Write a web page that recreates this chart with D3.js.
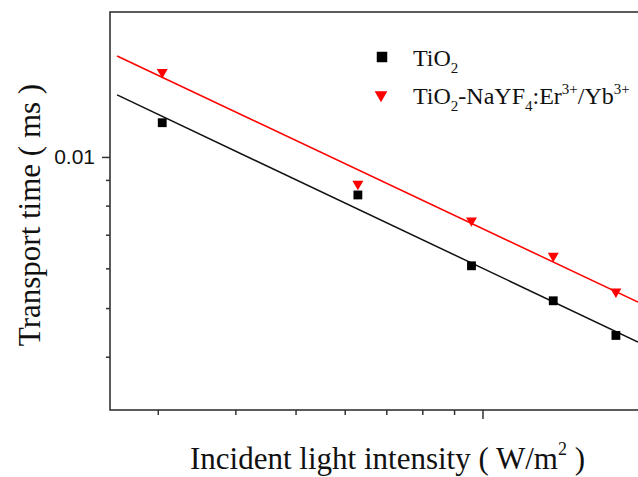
<!DOCTYPE html>
<html>
<head>
<meta charset="utf-8">
<script src="https://cdnjs.cloudflare.com/ajax/libs/d3/7.8.5/d3.min.js"></script>
<style>
	body{margin:0;background:#fff;}
	svg{display:block;}
</style>
</head>
<body>
<script>
// (log-log)
var intensity = [3.05, 6.3, 9.6, 13.0, 16.4];
var timeTiO2 = [0.0117, 0.0084, 0.00607, 0.00517, 0.00441];
var timeDoped = [0.01476, 0.00884, 0.00747, 0.00635, 0.00539];
// fitted lines, two ends each
var fitX = [2.58, 17.8];
var fitTiO2 = [0.01329, 0.00428];
var fitDoped = [0.01589, 0.00514];
var xMinorTicks = [3, 4, 5, 6, 7, 8, 9];
var xMajorTicks = [10];
var yMinorTicks = [0.004, 0.005, 0.006, 0.007, 0.008, 0.009];
var yMajorTicks = [0.01];

var width = 638;
var height = 477;
var plotLeft = 110, plotTop = 12, plotRight = 700, plotBottom = 410;
var axisColor = '#333';

var canvas = d3.select('body')
				.append('svg')
				.attr('width',width)
				.attr('height',height);

var x = d3.scaleLog()
			.domain([2.513,22.4])
			.range([plotLeft,plotRight]);
var y = d3.scaleLog()
			.domain([0.003133,0.01944])
			.range([plotBottom,plotTop]);

function styleAxis(g){
	g.select('.domain').remove();
	g.selectAll('.tick line').attr('stroke',axisColor).attr('stroke-width',1.5);
}

// x ticks
canvas.append('g')
	.attr('transform','translate(0,'+plotBottom+')')
	.call(d3.axisBottom(x).tickValues(xMinorTicks).tickSize(5).tickFormat(''))
	.call(styleAxis);
canvas.append('g')
	.attr('transform','translate(0,'+plotBottom+')')
	.call(d3.axisBottom(x).tickValues(xMajorTicks).tickSize(9).tickFormat(''))
	.call(styleAxis);

// y ticks
canvas.append('g')
	.attr('transform','translate('+plotLeft+',0)')
	.call(d3.axisLeft(y).tickValues(yMinorTicks).tickSize(4).tickFormat(''))
	.call(styleAxis);
var yMajor = canvas.append('g')
	.attr('transform','translate('+plotLeft+',0)')
	.call(d3.axisLeft(y).tickValues(yMajorTicks).tickSize(8).tickPadding(7).tickFormat(d3.format('')))
	.call(styleAxis);
yMajor.selectAll('text')
	.attr('font-family','"Liberation Sans", Arial, sans-serif')
	.attr('font-size',21)
	.attr('fill','#111');

// frame
canvas.append('rect')
	.attr('x',plotLeft)
	.attr('y',plotTop)
	.attr('width',plotRight-plotLeft)
	.attr('height',plotBottom-plotTop)
	.attr('fill','none')
	.attr('stroke',axisColor)
	.attr('stroke-width',1.6);

var line = d3.line()
			.x((d)=>x(d[0]))
			.y((d)=>y(d[1]));

canvas.append('path')
	.datum(d3.zip(fitX,fitTiO2))
	.attr('d',line)
	.attr('fill','none')
	.attr('stroke','#111')
	.attr('stroke-width',1.5);
canvas.append('path')
	.datum(d3.zip(fitX,fitDoped))
	.attr('d',line)
	.attr('fill','none')
	.attr('stroke','#ff0000')
	.attr('stroke-width',1.5);

var square = d3.symbol().type(d3.symbolSquare).size(78);
var tri = d3.symbol().type(d3.symbolTriangle).size(52);

canvas.append('g')
	.selectAll('path')
	.data(d3.zip(intensity,timeTiO2))
	.enter()
	.append('path')
	.attr('d',square)
	.attr('transform',(d)=>'translate('+x(d[0])+','+y(d[1])+')')
	.attr('fill','#000');
canvas.append('g')
	.selectAll('path')
	.data(d3.zip(intensity,timeDoped))
	.enter()
	.append('path')
	.attr('d',tri)
	.attr('transform',(d)=>'translate('+x(d[0])+','+y(d[1])+') rotate(180)')
	.attr('fill','#ff0000');

// legend
var serif = '"Liberation Serif","Times New Roman",serif';
var legend = canvas.append('g')
				.attr('font-family',serif)
				.attr('font-size',24)
				.attr('fill','#111');
legend.append('path')
	.attr('d',d3.symbol().type(d3.symbolSquare).size(110))
	.attr('transform','translate(382,57)')
	.attr('fill','#000');
legend.append('path')
	.attr('d',d3.symbol().type(d3.symbolTriangle).size(70))
	.attr('transform','translate(381,95) rotate(180)')
	.attr('fill','#ff0000');

var t1 = legend.append('text').attr('x',413).attr('y',66);
t1.append('tspan').text('TiO');
t1.append('tspan').attr('font-size',15).attr('dy',7).text('2');

var t2 = legend.append('text').attr('x',413).attr('y',104);
t2.append('tspan').text('TiO');
t2.append('tspan').attr('font-size',15).attr('dy',7).text('2');
t2.append('tspan').attr('dy',-7).text('-NaYF');
t2.append('tspan').attr('font-size',15).attr('dy',7).text('4');
t2.append('tspan').attr('dy',-7).text(':Er');
t2.append('tspan').attr('font-size',15).attr('dy',-10).text('3+');
t2.append('tspan').attr('dy',10).text('/Yb');
t2.append('tspan').attr('font-size',15).attr('dy',-10).text('3+');

// axis titles
var xt = canvas.append('text')
			.attr('x',190)
			.attr('y',469)
			.attr('font-family',serif)
			.attr('font-size',31)
			.attr('fill','#111');
xt.append('tspan').text('Incident light intensity ( W/m');
xt.append('tspan').attr('font-size',18).attr('dy',-14).text('2');
xt.append('tspan').attr('dy',14).text(' )');

canvas.append('text')
	.attr('transform','translate(40,215) rotate(-90)')
	.attr('text-anchor','middle')
	.attr('font-family',serif)
	.attr('font-size',31)
	.attr('fill','#111')
	.text('Transport time ( ms )');
</script>
</body>
</html>
